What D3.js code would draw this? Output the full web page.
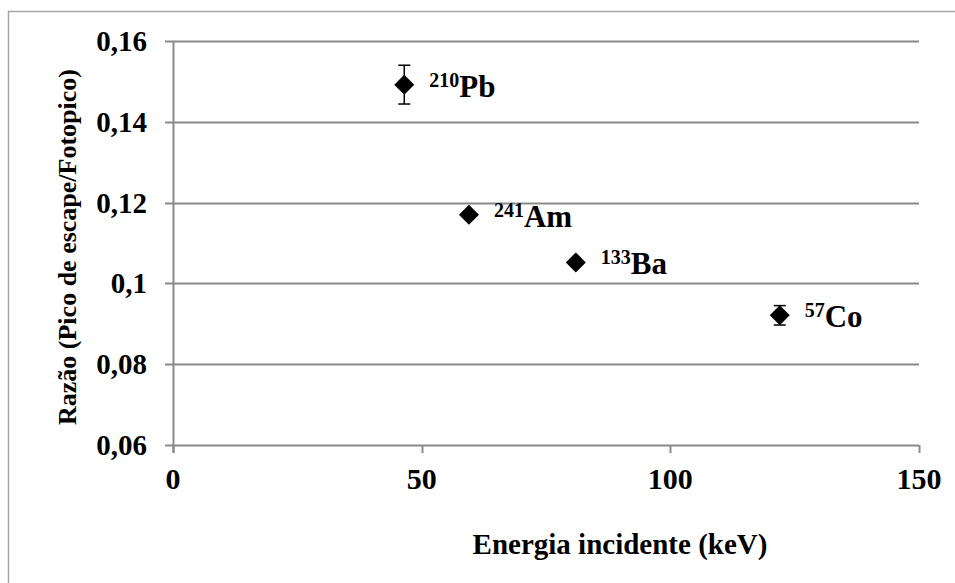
<!DOCTYPE html>
<html>
<head>
<meta charset="utf-8">
<script src="https://cdn.jsdelivr.net/npm/d3@7"></script>
<style>
  html, body { margin: 0; padding: 0; background: #fff; }
  svg { display: block; }
  text { font-family: "Liberation Serif", "Times New Roman", serif; font-weight: bold; fill: #000; }
</style>
</head>
<body>
<svg id="chart" width="955" height="583"></svg>
<script>
// Escape-peak / photopeak ratio versus incident energy
const isotopeMass = ["210", "241", "133", "57"];
const isotopeSymbol = ["Pb", "Am", "Ba", "Co"];
const energyKeV = [46.5, 59.5, 81.0, 122.0];
const ratio = [0.1492, 0.1170, 0.1052, 0.0921];
const ratioErr = [0.0048, 0.0006, 0.0006, 0.0024];

const xTicks = [0, 50, 100, 150];
const yTicks = [0.06, 0.08, 0.10, 0.12, 0.14, 0.16];
const yTickLabels = ["0,06", "0,08", "0,1", "0,12", "0,14", "0,16"];

const xTitle = "Energia incidente (keV)";
const yTitle = "Razão (Pico de escape/Fotopico)";

const svg = d3.select("#chart");
const plotLeft = 173, plotRight = 919, plotTop = 41, plotBottom = 445;
const gridColor = "#8a8a8a";

const x = d3.scaleLinear().domain([0, 150]).range([plotLeft, plotRight]);
const y = d3.scaleLinear().domain([0.06, 0.16]).range([plotBottom, plotTop]);

// outer chart frame
svg.append("rect")
  .attr("x", 8.5).attr("y", 11.5)
  .attr("width", 1000).attr("height", 1000)
  .attr("fill", "none").attr("stroke", "#a6a6a6").attr("stroke-width", 1.5);

// horizontal gridlines with short outward ticks
svg.append("g").selectAll("line")
  .data(yTicks)
  .join("line")
  .attr("x1", plotLeft - 8).attr("x2", plotRight)
  .attr("y1", d => Math.round(y(d)) + 0.5).attr("y2", d => Math.round(y(d)) + 0.5)
  .attr("stroke", gridColor).attr("stroke-width", 2);

// y axis line
svg.append("line")
  .attr("x1", plotLeft + 0.5).attr("x2", plotLeft + 0.5)
  .attr("y1", plotTop).attr("y2", plotBottom + 8)
  .attr("stroke", gridColor).attr("stroke-width", 2);

// x axis ticks
svg.append("g").selectAll("line")
  .data(xTicks)
  .join("line")
  .attr("x1", d => Math.round(x(d)) + 0.5).attr("x2", d => Math.round(x(d)) + 0.5)
  .attr("y1", plotBottom).attr("y2", plotBottom + 8)
  .attr("stroke", gridColor).attr("stroke-width", 2);

// y tick labels
svg.append("g").selectAll("text")
  .data(yTicks)
  .join("text")
  .attr("x", 147)
  .attr("y", d => y(d) + 10)
  .attr("text-anchor", "end")
  .attr("font-size", 29)
  .text((d, i) => yTickLabels[i]);

// x tick labels
svg.append("g").selectAll("text")
  .data(xTicks)
  .join("text")
  .attr("x", d => x(d))
  .attr("y", 489)
  .attr("text-anchor", "middle")
  .attr("font-size", 30)
  .text(d => d);

// axis titles
svg.append("text")
  .attr("x", 620).attr("y", 554)
  .attr("text-anchor", "middle")
  .attr("font-size", 29)
  .text(xTitle);

svg.append("text")
  .attr("transform", "translate(76,247) rotate(-90)")
  .attr("text-anchor", "middle")
  .attr("font-size", 26)
  .text(yTitle);

// data points
const pts = energyKeV.map((e, i) => ({ e, r: ratio[i], err: ratioErr[i], mass: isotopeMass[i], sym: isotopeSymbol[i] }));
const g = svg.append("g");

// error bars
const cap = 6;
g.selectAll("g.err")
  .data(pts)
  .join("g").attr("class", "err")
  .each(function (d) {
    const s = d3.select(this);
    const cx = x(d.e), y0 = y(d.r - d.err), y1 = y(d.r + d.err);
    s.append("line").attr("x1", cx).attr("x2", cx).attr("y1", y0).attr("y2", y1)
      .attr("stroke", "#000").attr("stroke-width", 1.5);
    [y0, y1].forEach(v => s.append("line")
      .attr("x1", cx - cap).attr("x2", cx + cap).attr("y1", v).attr("y2", v)
      .attr("stroke", "#000").attr("stroke-width", 1.5));
  });

// diamond markers
const h = 10;
g.selectAll("path.mk")
  .data(pts)
  .join("path").attr("class", "mk")
  .attr("transform", d => `translate(${x(d.e)},${y(d.r)})`)
  .attr("d", `M0,${-h}L${h},0L0,${h}L${-h},0Z`)
  .attr("fill", "#000");

// isotope labels
const lab = g.selectAll("text.lab")
  .data(pts)
  .join("text").attr("class", "lab")
  .attr("x", d => x(d.e) + 25)
  .attr("y", d => y(d.r) + 12)
  .attr("font-size", 31);
lab.append("tspan").attr("font-size", 20).attr("dy", -10).text(d => d.mass);
lab.append("tspan").attr("dy", 10).text(d => d.sym);
</script>
</body>
</html>
